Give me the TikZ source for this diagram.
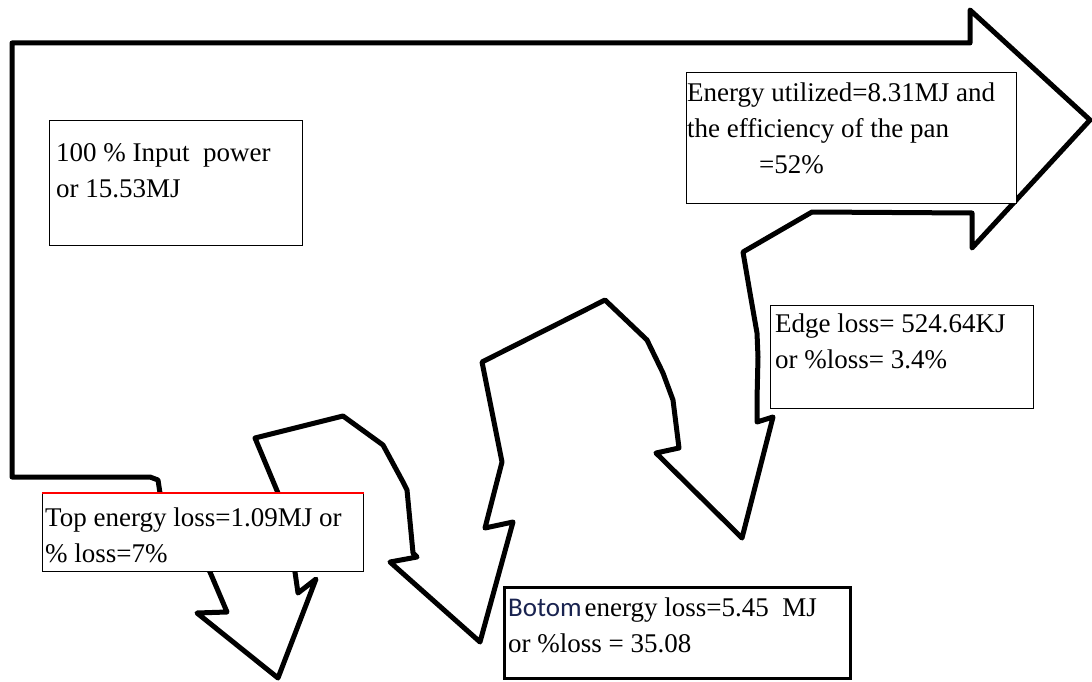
\documentclass[tikz,border=0pt]{standalone}
\usepackage{fontspec}
\setmainfont{Liberation Serif}
\newfontfamily\botomfont{Carlito}
\definecolor{botomblue}{RGB}{25,35,80}
\tikzset{
  flow/.style = {draw=black, line width=5pt, line join=round, fill=white},% contour du flux
  infobox/.style = {draw=black, line width=1.3pt, fill=white, inner sep=0pt,
    anchor=north west},% cadre de texte
  infotext/.style = {anchor=north west, align=left, inner sep=0pt,
    font=\fontsize{27}{36}\selectfont}% texte du cadre
}

\begin{document}
\begin{tikzpicture}[x=1pt,y=-1pt]
    \useasboundingbox (0,0) rectangle (1092,682);
    % flux d'energie
    \draw[flow] (12,43) -- (970,43) -- (970,10) -- (1090,120) -- (972,248) -- (972,213)
        -- (812,212) -- (743,252) -- (750,293) -- (757,333) -- (758,357) -- (757,400)
        -- (757,422) -- (773,417) -- (742,538) -- (656,453) -- (679,448) -- (673,400)
        -- (663,373) -- (647,340) -- (605,300) -- (482,362) -- (502,462) -- (485,528)
        -- (513,522) -- (480,642) -- (390,562) -- (417,557) -- (413,553) -- (407,490)
        -- (403,482) -- (383,445) -- (343,416) -- (255,438) -- (278,493) -- (295,572)
        -- (298,593) -- (316,579) -- (278,678) -- (197,613) -- (227,612) -- (210,572)
        -- (160,493) -- (158,480) -- (150,477) -- (12,477) -- cycle;
    % cadres
    \node [infobox, minimum width=253pt, minimum height=125pt] (inbox) at (49,120) {};
    \node [infobox, minimum width=330pt, minimum height=131pt] (utilbox) at (686,72) {};
    \node [infobox, minimum width=263pt, minimum height=103pt] (edgebox) at (770,305) {};
    \node [infobox, minimum width=321pt, minimum height=78pt] (topbox) at (42,493) {};
    \node [infobox, line width=2.5pt, minimum width=346pt, minimum height=91pt] (botombox) at (503,586) {};
    \draw [red, line width=1.5pt] (topbox.north west) -- (topbox.north east);
    % textes
    \node [infotext] (intext) at (56,143) {100 \% Input\ \ power\\or 15.53MJ};
    \node [infotext] (utiltext) at (687,83) {Energy utilized=8.31MJ and\\the efficiency of the pan\\\hspace*{72pt}=52\%};
    \node [infotext] (edgetext) at (775,314) {Edge loss= 524.64KJ\\or \%loss= 3.4\%};
    \node [infotext] (toptext) at (45,508) {Top energy loss=1.09MJ or\\\% loss=7\%};
    \node [infotext] (botomtext) at (508,598) {{\botomfont\color{botomblue}Botom}\hspace{3pt}energy loss=5.45\ \ MJ\\or \%loss = 35.08};
\end{tikzpicture}
\end{document}
